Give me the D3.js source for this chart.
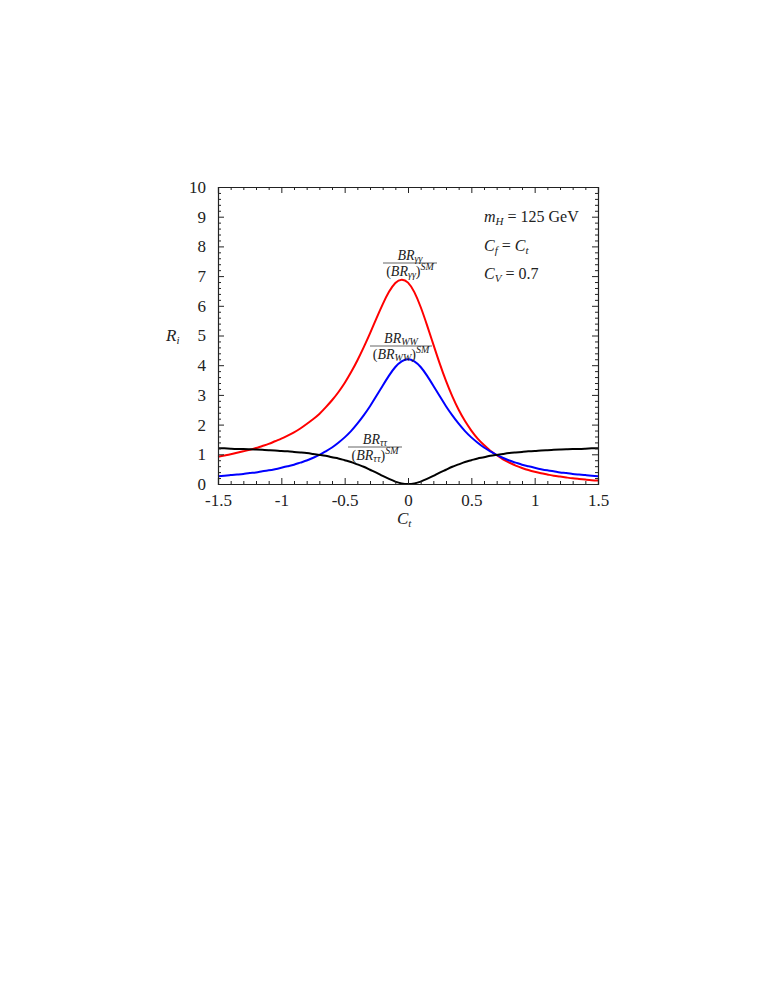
<!DOCTYPE html>
<html>
<head>
<meta charset="utf-8">
<script src="https://cdn.jsdelivr.net/npm/d3@7"></script>
<style>
  body { margin: 0; background: #fff; }
  svg text { font-family: "Liberation Serif", serif; fill: #222; }
  .axis path { stroke: #222; stroke-width: 1.2; }
  .axis line { stroke: #222; }
</style>
</head>
<body>
<svg id="chart" width="778" height="1007"></svg>
<script>
// values
const ct = [-1.5, -1.45, -1.4, -1.35, -1.3, -1.25, -1.2, -1.15, -1.1, -1.05, -1.0, -0.95, -0.9, -0.85, -0.8, -0.75,
            -0.7, -0.65, -0.6, -0.55, -0.5, -0.45, -0.4, -0.35, -0.3, -0.25, -0.2, -0.15, -0.1, -0.05, 0,
            0.05, 0.1, 0.15, 0.2, 0.25, 0.3, 0.35, 0.4, 0.45, 0.5, 0.55, 0.6, 0.65, 0.7,
            0.75, 0.8, 0.85, 0.9, 0.95, 1.0, 1.05, 1.1, 1.15, 1.2, 1.25, 1.3, 1.35, 1.4, 1.45, 1.5];
const rGamma = [0.92, 0.96, 1.00, 1.05, 1.10, 1.15, 1.21, 1.28, 1.35, 1.44, 1.53, 1.63, 1.74, 1.87, 2.02, 2.18,
                2.36, 2.58, 2.82, 3.09, 3.40, 3.76, 4.16, 4.60, 5.07, 5.57, 6.05, 6.47, 6.77, 6.88, 6.78,
                6.46, 5.96, 5.35, 4.70, 4.06, 3.47, 2.95, 2.50, 2.12, 1.80, 1.53, 1.31, 1.12, 0.97,
                0.83, 0.72, 0.62, 0.54, 0.47, 0.41, 0.36, 0.32, 0.28, 0.25, 0.22, 0.19, 0.17, 0.15, 0.13, 0.12];
const rWW = [0.26, 0.28, 0.30, 0.32, 0.34, 0.37, 0.39, 0.43, 0.46, 0.50, 0.55, 0.60, 0.65, 0.72, 0.79, 0.88,
             0.98, 1.10, 1.23, 1.39, 1.57, 1.78, 2.03, 2.31, 2.62, 2.96, 3.31, 3.65, 3.94, 4.13, 4.20,
             4.13, 3.94, 3.65, 3.31, 2.96, 2.62, 2.31, 2.03, 1.78, 1.57, 1.39, 1.23, 1.10, 0.98,
             0.88, 0.79, 0.72, 0.65, 0.60, 0.55, 0.50, 0.46, 0.43, 0.39, 0.37, 0.34, 0.32, 0.30, 0.28, 0.26];
const rTau = [1.20, 1.20, 1.19, 1.18, 1.18, 1.17, 1.16, 1.15, 1.14, 1.13, 1.11, 1.10, 1.08, 1.06, 1.04, 1.01,
              0.98, 0.95, 0.90, 0.86, 0.80, 0.74, 0.66, 0.58, 0.48, 0.38, 0.27, 0.17, 0.08, 0.02, 0.00,
              0.02, 0.08, 0.17, 0.27, 0.38, 0.48, 0.58, 0.66, 0.74, 0.80, 0.86, 0.90, 0.95, 0.98,
              1.01, 1.04, 1.06, 1.08, 1.10, 1.11, 1.13, 1.14, 1.15, 1.16, 1.17, 1.18, 1.18, 1.19, 1.20, 1.20];
const xTicks = [-1.5, -1, -0.5, 0, 0.5, 1, 1.5];
const xTickLabels = ['-1.5', '-1', '-0.5', '0', '0.5', '1', '1.5'];
const yTicks = [0, 1, 2, 3, 4, 5, 6, 7, 8, 9, 10];

const margin = {left: 218, top: 187};
const innerWidth = 380, innerHeight = 297;

const svg = d3.select('#chart');
const g = svg.append('g').attr('transform', `translate(${margin.left},${margin.top})`);

const x = d3.scaleLinear().domain([-1.5, 1.5]).range([0, innerWidth]);
const y = d3.scaleLinear().domain([0, 10]).range([innerHeight, 0]);

const xMinor = d3.range(-15, 16).map(d => d / 10).filter(d => Math.abs(d * 2 - Math.round(d * 2)) > 1e-6);
const yMinor = d3.range(0, 51).map(d => d / 5).filter(d => Math.abs(d - Math.round(d)) > 1e-6);

// curves
const series = [
  {vals: rGamma, color: '#f00'},
  {vals: rWW, color: '#00f'},
  {vals: rTau, color: '#000'}
];
const line = d3.line().curve(d3.curveNatural);
g.selectAll('path.curve').data(series).join('path')
  .attr('class', 'curve')
  .attr('fill', 'none')
  .attr('stroke', d => d.color)
  .attr('stroke-width', 2)
  .attr('d', d => line(ct.map((c, i) => [x(c), y(d.vals[i])])));

// axes, ticks inward on all four sides
function styleLabels(a) {
  a.attr('font-family', null).attr('font-size', null);
  a.selectAll('text')
    .style('font-family', '"Liberation Serif", serif')
    .style('font-size', '17px');
}
// tick marks only (no labels)
function bare(a, keepDomain) {
  a.selectAll('text').remove();
  if (!keepDomain) a.select('.domain').remove();
}
g.append('g').attr('class', 'axis')
  .attr('transform', `translate(0,${innerHeight})`)
  .call(d3.axisBottom(x).tickValues(xTicks).tickSize(-6).tickPadding(10).tickFormat((d, i) => xTickLabels[i]))
  .call(styleLabels);
g.append('g').attr('class', 'axis')
  .attr('transform', `translate(0,${innerHeight})`)
  .call(d3.axisBottom(x).tickValues(xMinor).tickSize(-3))
  .call(bare, false);
g.append('g').attr('class', 'axis')
  .call(d3.axisTop(x).tickValues(xTicks).tickSize(-6))
  .call(bare, true);
g.append('g').attr('class', 'axis')
  .call(d3.axisTop(x).tickValues(xMinor).tickSize(-3))
  .call(bare, false);

g.append('g').attr('class', 'axis')
  .call(d3.axisLeft(y).tickValues(yTicks).tickSize(-6).tickPadding(12))
  .call(styleLabels);
g.append('g').attr('class', 'axis')
  .call(d3.axisLeft(y).tickValues(yMinor).tickSize(-3))
  .call(bare, false);
g.append('g').attr('class', 'axis')
  .attr('transform', `translate(${innerWidth},0)`)
  .call(d3.axisRight(y).tickValues(yTicks).tickSize(-6))
  .call(bare, true);
g.append('g').attr('class', 'axis')
  .attr('transform', `translate(${innerWidth},0)`)
  .call(d3.axisRight(y).tickValues(yMinor).tickSize(-3))
  .call(bare, false);

// axis titles
svg.append('text').attr('x', 166).attr('y', 341).style('font-size', '17px')
  .html('<tspan font-style="italic">R</tspan><tspan font-style="italic" font-size="11" dy="3">i</tspan>');
svg.append('text').attr('x', 397).attr('y', 524).style('font-size', '17px')
  .html('<tspan font-style="italic">C</tspan><tspan font-style="italic" font-size="11" dy="3">t</tspan>');

// parameter notes
const notes = svg.append('g').style('font-size', '16px');
notes.append('text').attr('x', 484).attr('y', 222)
  .html('<tspan font-style="italic">m</tspan><tspan font-style="italic" font-size="11" dy="3">H</tspan><tspan dy="-3"> = 125 GeV</tspan>');
notes.append('text').attr('x', 484).attr('y', 251)
  .html('<tspan font-style="italic">C</tspan><tspan font-style="italic" font-size="11" dy="3">f</tspan><tspan dy="-3"> = </tspan><tspan font-style="italic">C</tspan><tspan font-style="italic" font-size="11" dy="3">t</tspan>');
notes.append('text').attr('x', 484).attr('y', 279)
  .html('<tspan font-style="italic">C</tspan><tspan font-style="italic" font-size="11" dy="3">V</tspan><tspan dy="-3"> = 0.7</tspan>');

// fraction labels on the curves
function fraction(cx, cy, sub, w) {
  const f = svg.append('g').attr('transform', `translate(${cx},${cy})`).style('font-size', '14px');
  f.append('text').attr('text-anchor', 'middle').attr('y', -3)
    .html(`<tspan font-style="italic">BR</tspan><tspan font-style="italic" font-size="10" dy="2">${sub}</tspan>`);
  f.append('line').attr('x1', -w / 2).attr('x2', w / 2).attr('stroke', '#222').attr('stroke-width', 0.7);
  f.append('text').attr('text-anchor', 'middle').attr('y', 13)
    .html(`<tspan>(</tspan><tspan font-style="italic">BR</tspan><tspan font-style="italic" font-size="10" dy="2">${sub}</tspan><tspan dy="-2">)</tspan><tspan font-style="italic" font-size="10" dy="-6">SM</tspan>`);
}
fraction(410, 263, 'γγ', 54);
fraction(401, 346, 'WW', 62);
fraction(375, 447, 'ττ', 54);
</script>
</body>
</html>
